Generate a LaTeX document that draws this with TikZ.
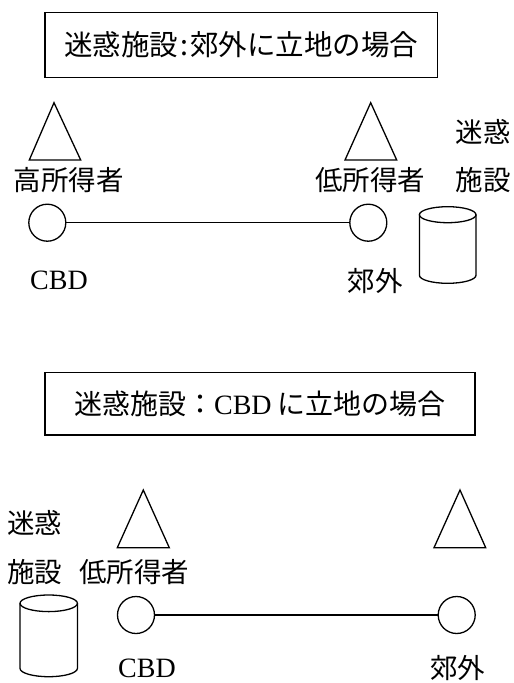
\documentclass[tikz,border=0pt]{standalone}
\usepackage{fontspec}
\setmainfont{Liberation Serif}
\newfontfamily\jp{Noto Sans CJK JP}
\begin{document}
\begin{tikzpicture}[x=1pt,y=-1pt,line width=1.3pt,
  jtext/.style={inner sep=0pt,font=\jp\fontsize{27.5}{30}\selectfont},
  ltext/.style={inner sep=0pt,font=\fontsize{28}{30}\selectfont},
  titlebox/.style={draw,inner sep=0pt},
  town/.style={draw,circle,minimum size=37pt,inner sep=0pt}]
\useasboundingbox (0,0) rectangle (514,683);
% ---------- top panel ----------
\node[titlebox,minimum width=392.7pt,minimum height=65pt,font=\jp\fontsize{28.5}{30}\selectfont] (t1) at (241.3,44.8) {迷惑施設\kern2pt:\kern2pt郊外に立地の場合};
\draw (54,102.7) -- (29.3,160) -- (80.7,160) -- cycle;
\draw (370.7,102.7) -- (345,160) -- (396.7,160) -- cycle;
\node[jtext] (h1) at (68.5,180.5) {高所得者};
\node[jtext] (l1) at (370,180.5) {低所得者};
\node[jtext] (m1) at (483,132) {迷惑};
\node[jtext] (s1) at (483,180.5) {施設};
\node[town] (c1) at (47.3,222.7) {};
\node[town] (k1) at (368.3,222.7) {};
\draw (c1) -- (k1);
\node[ltext] (cbd1) at (59,280) {CBD};
\node[jtext] (sub1) at (375,281) {郊外};
% cylinder
\draw (447.7,214.7) ellipse [x radius=28.3, y radius=8];
\draw (419.4,214.7) -- (419.4,275.3) arc[start angle=180,end angle=0,x radius=28.3,y radius=8] -- (476,214.7);
% ---------- bottom panel ----------
\node[titlebox,minimum width=430pt,minimum height=62.3pt,font=\jp\fontsize{28}{30}\selectfont] (t2) at (260,403.9) {迷惑施設：{\rmfamily CBD} に立地の場合};
\draw (143.3,490) -- (117.3,547.7) -- (169.3,547.7) -- cycle;
\draw (460,490) -- (434,547.7) -- (485.7,547.7) -- cycle;
\node[jtext] (m2) at (35,523) {迷惑};
\node[jtext] (s2) at (35,572) {施設};
\node[jtext] (l2) at (134,572) {低所得者};
\node[town] (c2) at (136,615) {};
\node[town] (k2) at (456.7,615) {};
\draw (c2) -- (k2);
\node[ltext] (cbd2) at (147,668.5) {CBD};
\node[jtext] (sub2) at (457.5,668.5) {郊外};
% cylinder
\draw (48.7,603.3) ellipse [x radius=28.7, y radius=8.3];
\draw (20,603.3) -- (20,668.4) arc[start angle=180,end angle=0,x radius=28.7,y radius=8.3] -- (77.4,603.3);
\end{tikzpicture}
\end{document}
